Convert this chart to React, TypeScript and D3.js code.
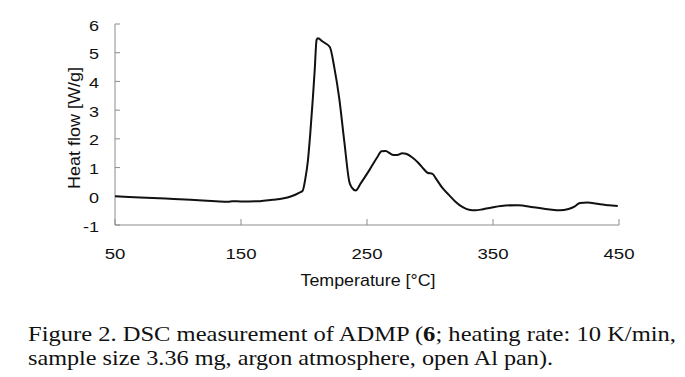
import React from "react";
import * as d3 from "d3";

const temperature = [50, 70, 90, 110, 130, 140, 143, 150, 165, 175, 183, 190, 196, 199, 201, 203, 205, 207, 208.5, 210, 211, 215, 220.5, 224, 228, 232, 236, 238, 241, 245, 252, 258, 261.5, 265, 268, 271, 274, 278, 281, 286, 291, 295, 298, 302, 305, 310, 315, 320, 326, 331, 336, 342, 350, 360, 370, 382, 395, 403, 410, 415, 419, 425, 430, 435, 442, 449];
const heatFlow = [0.0, -0.04, -0.08, -0.12, -0.17, -0.19, -0.17, -0.18, -0.17, -0.12, -0.08, 0.0, 0.12, 0.2, 0.6, 1.2, 2.2, 3.4, 4.4, 5.45, 5.5, 5.38, 5.2, 4.5, 3.4, 1.9, 0.5, 0.3, 0.2, 0.45, 0.92, 1.35, 1.57, 1.58, 1.5, 1.44, 1.44, 1.5, 1.48, 1.35, 1.15, 0.95, 0.82, 0.78, 0.6, 0.28, 0.05, -0.18, -0.38, -0.47, -0.49, -0.45, -0.38, -0.32, -0.31, -0.38, -0.46, -0.49, -0.44, -0.35, -0.23, -0.22, -0.24, -0.28, -0.31, -0.34];
const xTicks = [50, 150, 250, 350, 450];
const yTicks = [-1, 0, 1, 2, 3, 4, 5, 6];
const xTitle = "Temperature [°C]";
const yTitle = "Heat flow [W/g]";
const captionLines = [
  ["Figure 2. DSC measurement of ADMP (", "6", "; heating rate: 10 K/min,"],
  ["sample size 3.36 mg, argon atmosphere, open Al pan)."],
];

export default function App() {
  const x = d3.scaleLinear().domain([50, 450]).range([115, 619]);
  const y = d3.scaleLinear().domain([-1, 6]).range([225, 24]);
  const pts = temperature.map((t, i) => [t, heatFlow[i]] as [number, number]);
  const line = d3
    .line<[number, number]>()
    .x((d) => x(d[0]))
    .y((d) => y(d[1]))
    .curve(d3.curveMonotoneX);
  const axisColor = "#8c8c8c";
  const sans = "Liberation Sans, Arial, sans-serif";
  const serif = "Liberation Serif, Times New Roman, serif";
  return (
    <svg width={685} height={377} style={{ position: "absolute", left: 0, top: 0, background: "#fff" }}>
      <rect x={0} y={0} width={685} height={377} fill="#fff" />
      <line x1={x(50)} x2={x(450)} y1={y(-1)} y2={y(-1)} stroke={axisColor} strokeWidth={1} />
      <line x1={x(50)} x2={x(50)} y1={y(-1)} y2={y(6)} stroke={axisColor} strokeWidth={1} />
      {xTicks.map((t) => (
        <g key={"xt" + t}>
          <line x1={x(t)} x2={x(t)} y1={y(-1)} y2={y(-1) - 6} stroke={axisColor} strokeWidth={1} />
          <text
            transform={`translate(${x(t)},259) scale(1.2,1)`}
            textAnchor="middle"
            fontFamily={sans}
            fontSize={15.5}
            fill="#111"
          >
            {t}
          </text>
        </g>
      ))}
      {yTicks.map((t) => (
        <g key={"yt" + t}>
          <line x1={x(50)} x2={x(50) + 5} y1={y(t)} y2={y(t)} stroke={axisColor} strokeWidth={1} />
          <text
            transform={`translate(99,${y(t) + 6.5}) scale(1.2,1)`}
            textAnchor="end"
            fontFamily={sans}
            fontSize={15}
            fill="#111"
          >
            {t}
          </text>
        </g>
      ))}
      <path d={line(pts) || ""} fill="none" stroke="#111" strokeWidth={2} strokeLinejoin="round" />
      <text
        transform={`translate(368,286) scale(1.05,1)`}
        textAnchor="middle"
        fontFamily={sans}
        fontSize={17}
        fill="#111"
      >
        {xTitle}
      </text>
      <text
        transform={`translate(80,128) rotate(-90) scale(1.2,1.15)`}
        textAnchor="middle"
        fontFamily={sans}
        fontSize={15}
        fill="#111"
      >
        {yTitle}
      </text>
      <text x={28} y={341} fontFamily={serif} fontSize={21} fill="#111" textLength={648} lengthAdjust="spacingAndGlyphs">
        {captionLines[0][0]}
        <tspan fontWeight="bold">{captionLines[0][1]}</tspan>
        {captionLines[0][2]}
      </text>
      <text x={28} y={365} fontFamily={serif} fontSize={21} fill="#111" textLength={525} lengthAdjust="spacingAndGlyphs">
        {captionLines[1][0]}
      </text>
    </svg>
  );
}
